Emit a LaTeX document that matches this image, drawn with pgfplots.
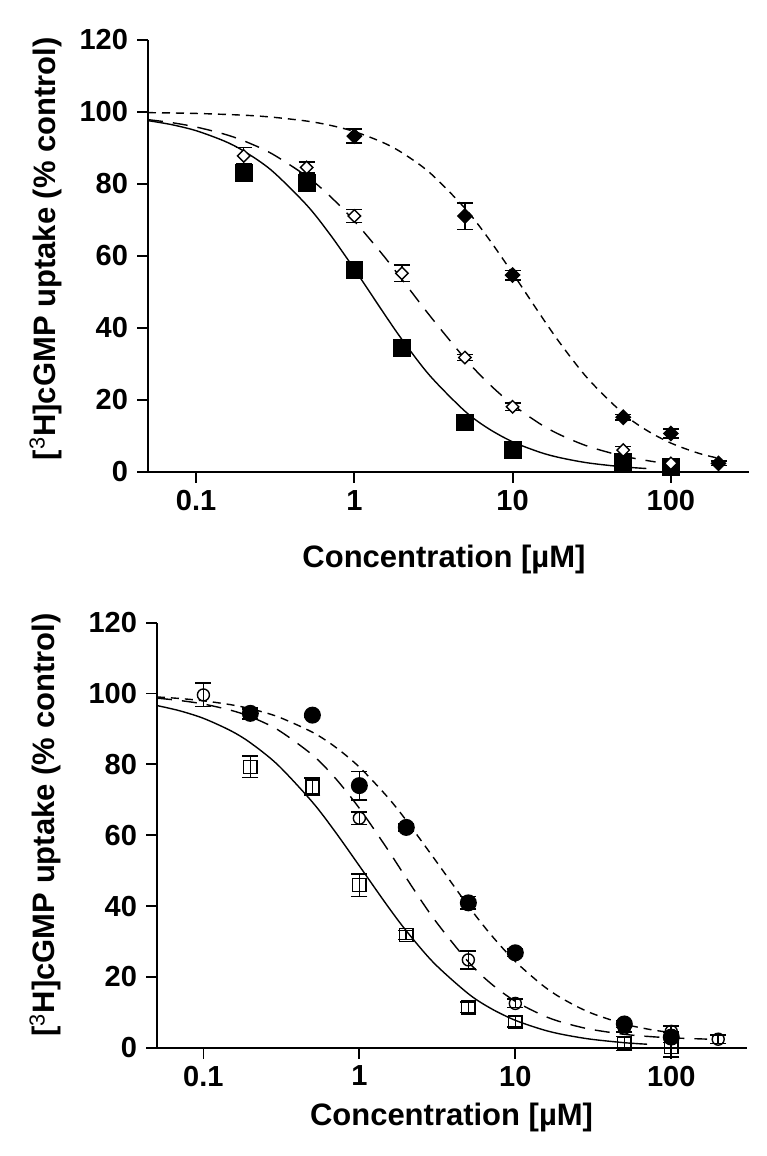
\documentclass[border=0pt]{standalone}
\usepackage{fontspec}
\setmainfont{Liberation Sans}
\usepackage{pgfplots}
\pgfplotsset{compat=1.18}
\pgfplotsset{
 curve/.style={black, line width=0.7pt, smooth, no markers},
 ebar/.style={only marks, black, line width=0.7pt,
   error bars/y dir=both, error bars/y explicit,
   error bars/error bar style={line width=0.8pt, solid},
   error bars/error mark options={rotate=90, mark size=4pt, line width=0.8pt, solid}},
}
\begin{document}
\begin{tikzpicture}
\path[use as bounding box] (0,0) rectangle (383pt,578pt);
% ---------------- top panel ----------------
\begin{axis}[scale only axis, xmode=log, ymin=0, ymax=120, clip=false,
  axis lines=left, axis line style={-, line width=0.9pt},
  tick align=outside, major tick length=5.5pt, tick style={line width=0.9pt, black},
  xtick={0.1,1,10,100}, xticklabels={0.1,1,10,100}, xminorticks=false,
  ytick={0,20,40,60,80,100,120},
  /pgf/number format/assume math mode=true,
  tick label style={font=\fontsize{14.5}{16}\selectfont\bfseries},
  yticklabel style={xshift=-1pt},
  label style={font=\fontsize{15.5}{18}\selectfont\bfseries},
  xlabel={Concentration [µM]},
  ylabel={[\textsuperscript{\normalfont 3}H]cGMP uptake (\% control)},
  at={(74pt,342pt)}, anchor=south west, width=300.5pt, height=216pt,
  xmin=0.0497, xmax=311.6,
  xlabel style={at={(axis description cs:0.4925,-0.2222)}, anchor=base},
  ylabel style={at={(axis description cs:-0.1547,0.517)}, anchor=base}]
\addplot[curve] coordinates {(0.0497,97.6)(0.07,96.49)(0.1,94.81)(0.15,91.97)(0.2,89.16)(0.3,83.77)(0.5,74.15)(0.7,66.08)(1,56.38)(1.5,44.78)(2,36.81)(3,26.76)(5,16.88)(7,12.12)(10,8.38)(15,5.43)(20,3.96)(30,2.52)(50,1.42)(70,0.97)};
\addplot[curve, dash pattern=on 7.5pt off 5pt] coordinates {(0.0497,97.87)(0.07,97.05)(0.1,95.83)(0.15,93.88)(0.2,92.0)(0.3,88.46)(0.5,82.14)(0.7,76.67)(1,69.70)(1.5,60.53)(2,53.49)(3,43.40)(5,31.51)(7,24.73)(10,18.70)(15,13.29)(20,10.31)(30,7.12)(50,4.40)(80,2.79)};
\addplot[curve, dash pattern=on 4pt off 3pt] coordinates {(0.0497,99.82)(0.1,99.60)(0.2,99.11)(0.3,98.58)(0.5,97.48)(0.7,96.33)(1,94.57)(1.5,91.62)(2,88.70)(3,83.12)(5,73.25)(7,65.02)(10,55.22)(15,43.62)(20,35.72)(30,25.85)(50,16.23)(70,11.63)(100,8.03)(150,5.19)(210,3.59)};
% filled squares
\addplot[only marks, black, mark=square*, mark size=4.2pt] table[x=x,y=y] {
x y
0.2 83.0
0.5 80.4
1 56.1
2 34.4
5 13.8
10 6.1
50 2.9
100 1.5
};
% filled diamonds
\addplot[ebar, mark=square*, mark options={rotate=45, mark size=2.5pt, fill=black}] table[x=x,y=y,y error=e] {
x y e
1 93.3 1.9
5 71.1 3.7
10 54.7 1.3
50 15.2 0.8
100 10.7 1.2
200 2.4 0.6
};
% open diamonds
\addplot[ebar, mark=square*, mark options={rotate=45, mark size=2.2pt, fill=white}] table[x=x,y=y,y error=e] {
x y e
0.2 87.8 2.3
0.5 84.6 1.5
1 71.1 1.8
2 55.2 2.3
5 31.8 0.8
10 18.1 1.0
50 6.1 1.0
100 2.4 1.0
};
\end{axis}
% ---------------- bottom panel ----------------
\begin{axis}[scale only axis, xmode=log, ymin=0, ymax=120, clip=false,
  axis lines=left, axis line style={-, line width=0.9pt},
  tick align=outside, major tick length=5.5pt, tick style={line width=0.9pt, black},
  xtick={0.1,1,10,100}, xticklabels={0.1,1,10,100}, xminorticks=false,
  ytick={0,20,40,60,80,100,120},
  /pgf/number format/assume math mode=true,
  tick label style={font=\fontsize{14.5}{16}\selectfont\bfseries},
  yticklabel style={xshift=-1pt},
  label style={font=\fontsize{15.5}{18}\selectfont\bfseries},
  xlabel={Concentration [µM]},
  ylabel={[\textsuperscript{\normalfont 3}H]cGMP uptake (\% control)},
  at={(78.5pt,54.15pt)}, anchor=south west, width=295pt, height=212.5pt,
  xmin=0.0504, xmax=306,
  xlabel style={at={(axis description cs:0.4992,-0.1819)}, anchor=base},
  ylabel style={at={(axis description cs:-0.1729,0.524)}, anchor=base}]
\addplot[curve] coordinates {(0.0504,96.6)(0.07,95.16)(0.1,93.00)(0.15,89.48)(0.2,86.10)(0.3,79.86)(0.5,69.34)(0.7,60.97)(1,51.34)(1.5,40.31)(2,32.99)(3,23.96)(5,15.23)(7,11.04)(10,7.73)(15,5.09)(20,3.76)(30,2.44)(50,1.41)(70,0.98)};
\addplot[curve, dash pattern=on 7.5pt off 5pt] coordinates {(0.0504,98.69)(0.07,98.05)(0.1,97.04)(0.15,95.27)(0.2,93.45)(0.3,89.77)(0.5,82.66)(0.7,76.14)(1,67.60)(1.5,56.34)(2,47.91)(3,36.43)(5,24.23)(7,18.06)(10,13.10)(15,9.14)(20,7.16)(30,5.24)(50,3.78)(70,3.20)(100,2.78)(170,2.42)};
\addplot[curve, dash pattern=on 4pt off 3pt] coordinates {(0.0504,99.03)(0.07,98.61)(0.1,97.95)(0.15,96.84)(0.2,95.71)(0.3,93.46)(0.5,89.07)(0.7,84.93)(1,79.23)(1.5,71.01)(2,64.17)(3,53.57)(5,40.00)(7,31.82)(10,24.34)(15,17.58)(20,13.87)(30,9.94)(50,6.69)(70,5.29)(90,4.52)};
% open squares
\addplot[ebar, mark=square, mark options={mark size=3.3pt, solid}] table[x=x,y=y,y error=e] {
x y e
0.2 79.3 3.0
0.5 73.7 2.4
1 45.9 3.2
2 31.8 1.3
5 11.4 1.5
10 7.3 1.5
50 1.2 2.0
100 0.3 3.0
};
% open circles
\addplot[ebar, mark=o, mark options={mark size=3pt, solid}] table[x=x,y=y,y error=e] {
x y e
0.1 99.6 3.3
0.2 94.2 1.5
1 64.8 1.8
5 24.8 2.5
10 12.5 1.2
50 5.5 1.0
100 4.6 1.5
200 2.4 1.2
};
% filled circles
\addplot[ebar, mark=*, mark options={mark size=3.9pt, fill=black}] table[x=x,y=y,y error=e] {
x y e
0.2 94.4 1.5
0.5 93.9 0.5
1 74.0 4.0
2 62.2 1.0
5 40.9 1.8
10 26.8 1.0
50 6.7 1.0
100 3.0 1.5
};
\end{axis}
\end{tikzpicture}
\end{document}
